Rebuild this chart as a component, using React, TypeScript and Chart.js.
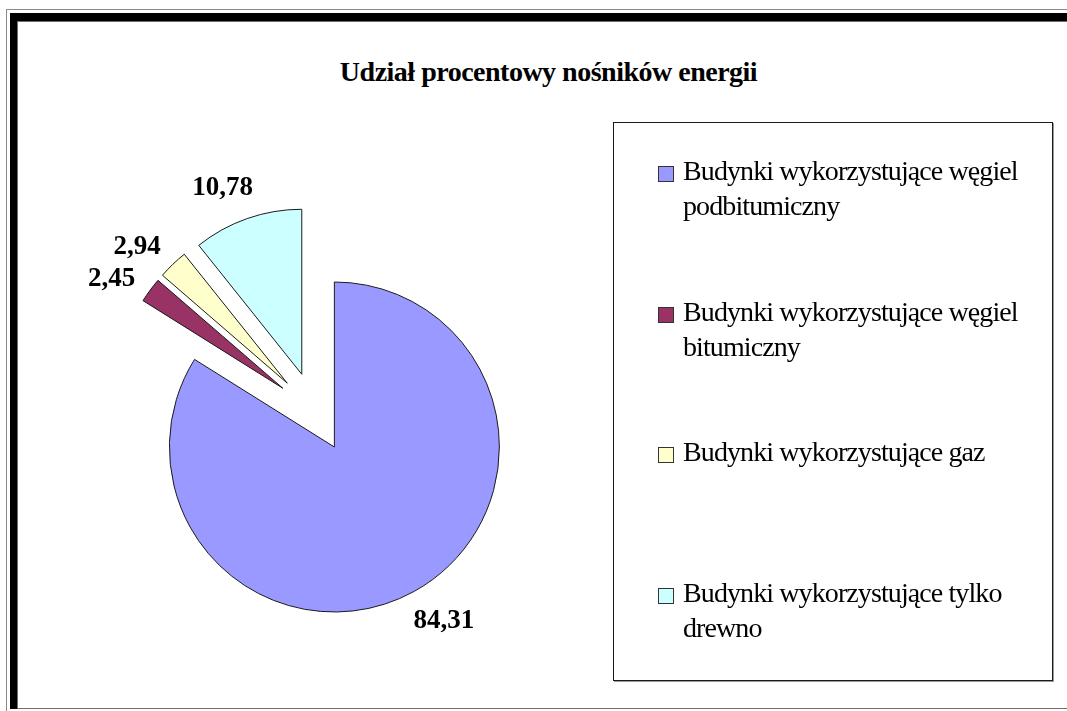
import React, { useEffect, useRef } from "react";
import { Chart, registerables } from "chart.js";

Chart.register(...registerables);

const TITLE = "Udział procentowy nośników energii";
const categories = [
  "Budynki wykorzystujące węgiel podbitumiczny",
  "Budynki wykorzystujące węgiel bitumiczny",
  "Budynki wykorzystujące gaz",
  "Budynki wykorzystujące tylko drewno",
];
const values = [84.31, 2.45, 2.94, 10.78];
const valueLabels = values.map((v) => v.toFixed(2).replace(".", ","));
const colors = ["#9999FF", "#993366", "#FFFFCC", "#CCFFFF"];
const EXPLODE = 40; // px each slice is pulled out along its mid-angle

const FONT = '"Liberation Serif", "Times New Roman", serif';

function sliceShift(arc: any) {
  const mid = (arc.startAngle + arc.endAngle) / 2;
  return { mid, dx: Math.cos(mid) * EXPLODE, dy: Math.sin(mid) * EXPLODE };
}

// Draw the library's arc elements, each pulled out from the centre (exploded pie).
const explodePlugin = {
  id: "explodedPie",
  beforeDatasetDraw(chart: any, args: any) {
    const ctx = chart.ctx;
    args.meta.data.forEach((arc: any) => {
      const { dx, dy } = sliceShift(arc);
      ctx.save();
      ctx.translate(dx, dy);
      arc.draw(ctx, chart.chartArea);
      ctx.restore();
    });
    return false;
  },
};

const labelPlugin = {
  id: "sliceLabels",
  afterDatasetsDraw(chart: any) {
    const ctx = chart.ctx;
    const meta = chart.getDatasetMeta(0);
    ctx.save();
    ctx.font = `bold 27px ${FONT}`;
    ctx.fillStyle = "#000";
    ctx.textAlign = "center";
    ctx.textBaseline = "middle";
    meta.data.forEach((arc: any, i: number) => {
      const { mid, dx, dy } = sliceShift(arc);
      const cx = arc.x + dx;
      const cy = arc.y + dy;
      const a = mid - (3.5 * Math.PI) / 180;
      const d = arc.outerRadius + 39;
      ctx.fillText(valueLabels[i], cx + Math.cos(a) * d, cy + Math.sin(a) * d + 2);
    });
    ctx.restore();
  },
};

export default function App() {
  const canvasRef = useRef<HTMLCanvasElement | null>(null);

  useEffect(() => {
    const canvas = canvasRef.current;
    if (!canvas) return;
    const chart = new Chart(canvas, {
      type: "pie",
      data: {
        labels: categories,
        datasets: [
          {
            data: values,
            backgroundColor: colors,
            borderColor: "#1a1a1a",
            borderWidth: 1,
            radius: 165,
          } as any,
        ],
      },
      options: {
        responsive: false,
        animation: false,
        events: [],
        layout: { padding: { left: 0, right: 437, top: 113, bottom: 0 } },
        plugins: {
          legend: { display: false },
          title: { display: false },
          tooltip: { enabled: false },
        },
      } as any,
      plugins: [explodePlugin, labelPlugin],
    });
    return () => chart.destroy();
  }, []);

  const itemTop0 = 30;
  const itemStep = 140.7;

  return (
    <div
      style={{
        position: "absolute",
        left: 0,
        top: 0,
        width: 1067,
        height: 711,
        overflow: "hidden",
        background: "#fff",
        fontFamily: FONT,
      }}
    >
      {/* frame */}
      <div style={{ position: "absolute", left: 6, top: 9, width: 1120, height: 740, border: "1px solid #8a8a8a", boxSizing: "border-box" }} />
      <div style={{ position: "absolute", left: 10, top: 13, width: 1120, height: 696, borderLeft: "7px solid #000", borderTop: "8px solid #000", boxSizing: "border-box" }} />
      <div style={{ position: "absolute", left: 17, top: 21, width: 1120, height: 688, border: "1px solid #6e6e6e", boxSizing: "border-box" }} />

      {/* title */}
      <div
        style={{
          position: "absolute",
          left: 0,
          top: 58,
          width: 1097,
          textAlign: "center",
          fontWeight: "bold",
          fontSize: 28,
          lineHeight: "28px",
          letterSpacing: "-0.5px",
          color: "#000",
          whiteSpace: "nowrap",
        }}
      >
        {TITLE}
      </div>

      <canvas
        ref={canvasRef}
        width={1067}
        height={711}
        style={{ position: "absolute", left: 0, top: 0, width: 1067, height: 711 }}
      />

      {/* legend */}
      <div
        style={{
          position: "absolute",
          left: 613,
          top: 122,
          width: 440,
          height: 559,
          border: "1px solid #1a1a1a",
          boxShadow: "1px 1px 0 #999",
          boxSizing: "border-box",
          background: "transparent",
        }}
      >
        {categories.map((c, i) => (
          <div key={i} style={{ position: "absolute", left: 0, top: itemTop0 + i * itemStep }}>
            <div
              style={{
                position: "absolute",
                left: 44,
                top: 13,
                width: 16,
                height: 16,
                background: colors[i],
                border: "1px solid #333",
                boxSizing: "border-box",
              }}
            />
            <div
              style={{
                position: "absolute",
                left: 69,
                top: 0,
                width: 365,
                fontSize: 28,
                lineHeight: "35px",
                letterSpacing: "-0.9px",
                color: "#000",
              }}
            >
              {c}
            </div>
          </div>
        ))}
      </div>
    </div>
  );
}
